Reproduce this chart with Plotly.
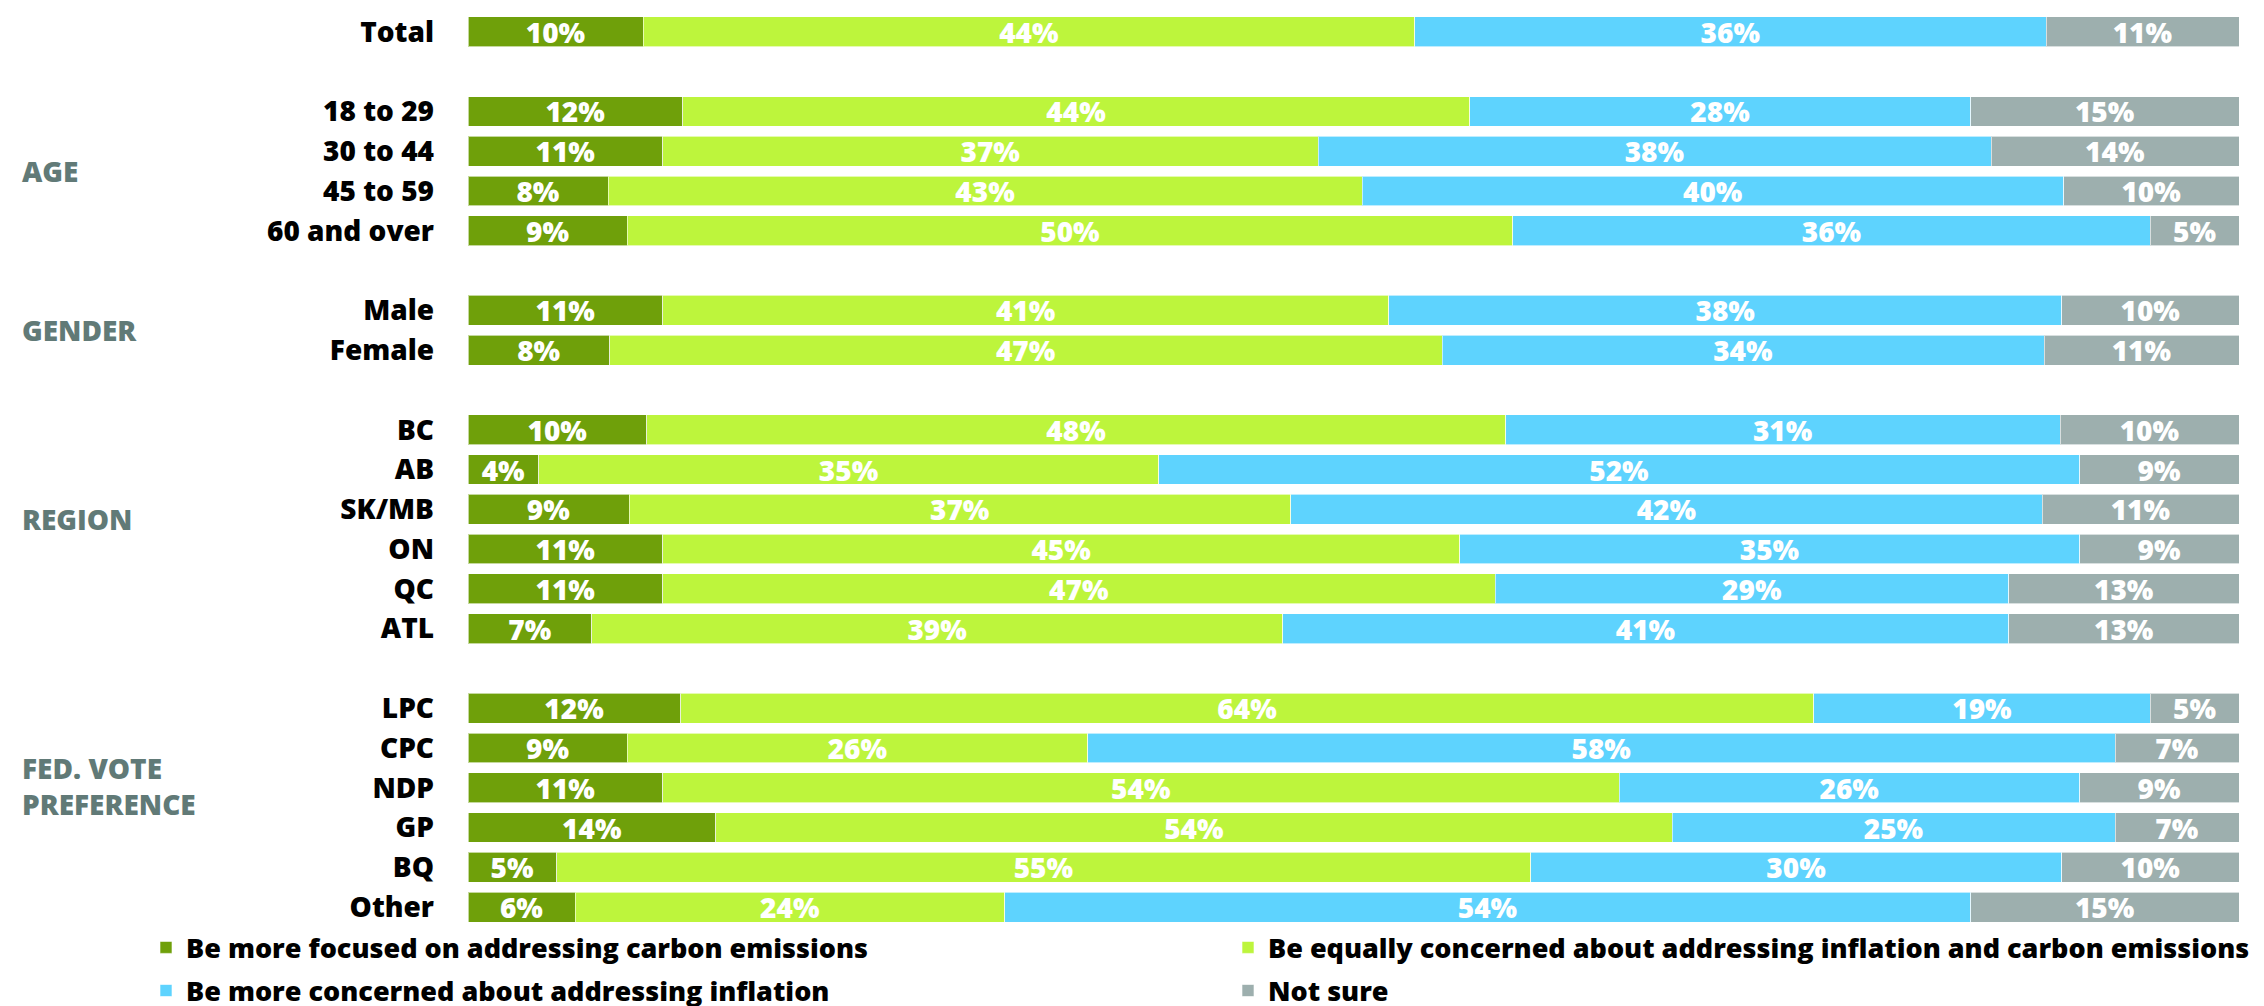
import plotly.graph_objects as go

# ---------------- data ----------------
categories = ["Total",
              "18 to 29", "30 to 44", "45 to 59", "60 and over",
              "Male", "Female",
              "BC", "AB", "SK/MB", "ON", "QC", "ATL",
              "LPC", "CPC", "NDP", "GP", "BQ", "Other"]
group_titles = [None, "AGE", "GENDER", "REGION", "FED. VOTE<br>PREFERENCE"]
group_sizes = [1, 4, 2, 6, 6]

focused = [10, 12, 11, 8, 9, 11, 8, 10, 4, 9, 11, 11, 7, 12, 9, 11, 14, 5, 6]
equally = [44, 44, 37, 43, 50, 41, 47, 48, 35, 37, 45, 47, 39, 64, 26, 54, 54, 55, 24]
inflation = [36, 28, 38, 40, 36, 38, 34, 31, 52, 42, 35, 29, 41, 19, 58, 26, 25, 30, 54]
not_sure = [11, 15, 14, 10, 5, 10, 11, 10, 9, 11, 9, 13, 13, 5, 7, 9, 7, 10, 15]

series_names = ["Be more focused on addressing carbon emissions",
                "Be equally concerned about addressing inflation and carbon emissions",
                "Be more concerned about addressing inflation",
                "Not sure"]
series_values = [focused, equally, inflation, not_sure]
series_colors = ["#6FA00A", "#BDF53C", "#5ED3FE", "#9DAFAE"]
series_legends = ["legend", "legend2", "legend", "legend2"]

# ---------------- build rows with spacer rows between groups ----------------
rows = []          # category names along y (incl. spacers)
row_src = []       # index into data arrays or None for spacer
group_ranges = []  # (first_row_idx, last_row_idx)
k = 0
for gi, size in enumerate(group_sizes):
    if gi > 0:
        rows.append(" " * gi)
        row_src.append(None)
    start = len(rows)
    for j in range(size):
        rows.append(categories[k])
        row_src.append(k)
        k += 1
    group_ranges.append((start, len(rows) - 1))

W, H = 2264, 1006
ML, MR, MT, MB = 460, 33, 4, 87
PW = W - ML - MR
FONT = "Open Sans"
WEIGHT = 800
FS = 28
LFS = 27

fig = go.Figure()
for name, vals, color, lg in zip(series_names, series_values, series_colors, series_legends):
    xs = [vals[i] if i is not None else None for i in row_src]
    txt = [f"{vals[i]}%" if i is not None else "" for i in row_src]
    fig.add_trace(go.Bar(
        y=rows, x=xs, orientation="h", name=name,
        marker=dict(color=color, line=dict(color="rgba(255,255,255,0.6)", width=1)),
        text=txt, textposition="inside", insidetextanchor="middle",
        textfont=dict(family=FONT, size=FS, color="white", weight=WEIGHT),
        constraintext="none", hoverinfo="skip",
        legend=lg, legendgroup=name,
    ))

# group titles (small vertical nudges to match the original layout)
title_shifts = {"REGION": 10, "FED. VOTE<br>PREFERENCE": 22}
for title, (a, b) in zip(group_titles, group_ranges):
    if not title:
        continue
    fig.add_annotation(
        xref="paper", yref="y", x=0, y=(a + b) / 2, xanchor="left", yanchor="middle",
        xshift=-(ML - 12), yshift=title_shifts.get(title, 0), text=title,
        showarrow=False, align="left",
        font=dict(family=FONT, size=FS, color="#617A77", weight=WEIGHT),
    )

legend_common = dict(orientation="v", y=0.004, yanchor="top", tracegroupgap=5,
                     itemwidth=30, bgcolor="rgba(0,0,0,0)",
                     font=dict(family=FONT, size=LFS, color="black", weight=WEIGHT))

fig.update_layout(
    width=W, height=H,
    margin=dict(l=ML, r=MR, t=MT, b=MB, autoexpand=False),
    barmode="stack", barnorm="percent", bargap=0.25,
    plot_bgcolor="white", paper_bgcolor="white",
    font=dict(family=FONT, size=FS, color="black"),
    xaxis=dict(range=[0, 100], visible=False, showgrid=False, zeroline=False, fixedrange=True),
    yaxis=dict(categoryorder="array", categoryarray=rows, autorange="reversed",
               showgrid=False, zeroline=False, showline=False, ticks="",
               ticklabelstandoff=33,
               tickfont=dict(family=FONT, size=FS, color="black", weight=WEIGHT)),
    legend=dict(x=-(ML - 138) / PW, xanchor="left", **legend_common),
    legend2=dict(x=(1220 - ML) / PW, xanchor="left", **legend_common),
    showlegend=True,
)

fig.write_html("out.html")
